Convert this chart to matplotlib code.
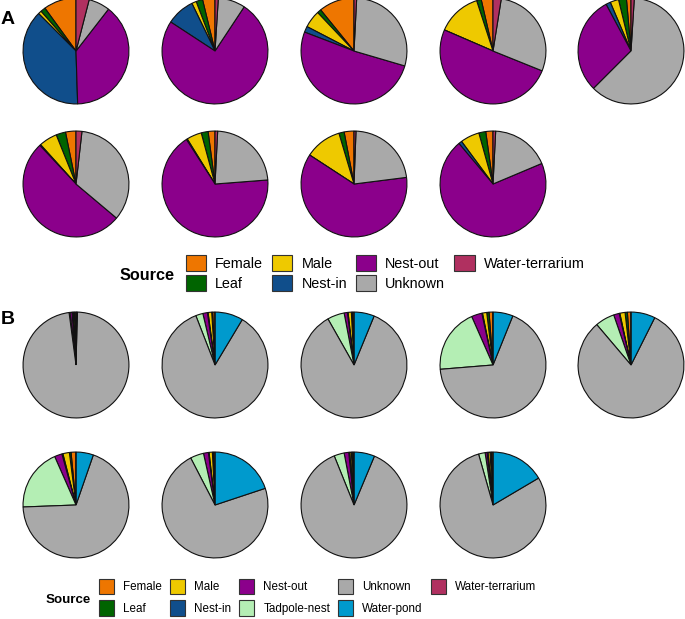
import matplotlib
matplotlib.use("Agg")
import matplotlib.pyplot as plt
from matplotlib.patches import Patch

plt.rcParams['font.family'] = ['Liberation Sans', 'DejaVu Sans']

W, H = 685, 619

# categories and colours
sources_a = ["Female", "Leaf", "Male", "Nest-in", "Nest-out", "Unknown", "Water-terrarium"]
sources_b = ["Female", "Leaf", "Male", "Nest-in", "Nest-out", "Tadpole-nest", "Unknown",
             "Water-pond", "Water-terrarium"]
colors = {"Female": "#EE7600", "Leaf": "#006400", "Male": "#EEC900", "Nest-in": "#104E8B",
          "Nest-out": "#8B008B", "Unknown": "#A9A9A9", "Water-terrarium": "#B03060",
          "Tadpole-nest": "#B4EEB4", "Water-pond": "#009ACD"}

# panel A: percentage per source (order of sources_a)
pies_a = [
    [10.0, 1.5, 1.0, 38.0, 39.0, 6.5, 4.0],
    [3.8, 2.0, 1.4, 8.6, 75.0, 8.3, 1.0],
    [10.8, 1.2, 5.3, 1.8, 51.0, 28.6, 0.8],
    [3.6, 1.4, 13.5, 0.0, 50.4, 28.6, 2.5],
    [1.4, 2.4, 2.6, 1.4, 29.7, 61.5, 1.0],
    [3.2, 2.9, 5.6, 0.3, 52.0, 34.4, 1.8],
    [2.1, 2.1, 4.6, 0.3, 67.2, 23.0, 0.8],
    [3.0, 1.6, 11.2, 0.0, 61.2, 22.4, 0.6],
    [2.2, 2.1, 5.8, 1.0, 70.0, 17.8, 0.8],
]

# panel B: percentage per source (order of sources_b)
pies_b = [
    [0.4, 0.3, 0.3, 0.2, 0.6, 0.3, 97.5, 0.2, 0.2],
    [0.7, 0.3, 1.1, 0.2, 1.4, 2.2, 85.5, 8.6, 0.0],
    [0.5, 0.3, 1.0, 0.2, 1.0, 5.2, 85.6, 6.2, 0.0],
    [1.2, 0.7, 1.3, 0.2, 3.2, 19.7, 67.6, 6.1, 0.0],
    [1.1, 0.7, 1.6, 0.2, 1.7, 5.9, 81.4, 7.4, 0.0],
    [1.5, 0.5, 2.0, 0.3, 2.3, 19.0, 69.1, 5.3, 0.0],
    [0.5, 0.3, 1.0, 0.2, 1.5, 4.1, 72.5, 19.9, 0.0],
    [0.4, 0.4, 0.5, 0.3, 1.4, 3.1, 87.6, 6.3, 0.0],
    [0.5, 0.4, 0.6, 0.3, 0.6, 2.0, 79.1, 16.5, 0.0],
]

col_x = [76, 215, 354, 493, 631]
R = 53

fig = plt.figure(figsize=(W / 100, H / 100), dpi=100)


def draw_pie(vals, names, cx, cy):
    ax = fig.add_axes([(cx - R - 1) / W, 1 - (cy + R + 1) / H, (2 * R + 2) / W, (2 * R + 2) / H])
    ax.pie(vals, colors=[colors[n] for n in names], startangle=90, counterclock=True,
           wedgeprops=dict(edgecolor="#111111", linewidth=0.8))
    ax.set_xlim(-1.02, 1.02)
    ax.set_ylim(-1.02, 1.02)
    ax.set_aspect("equal")
    ax.axis("off")


for i, vals in enumerate(pies_a):
    draw_pie(vals, sources_a, col_x[i % 5], [51, 184][i // 5])
for i, vals in enumerate(pies_b):
    draw_pie(vals, sources_b, col_x[i % 5], [365, 505][i // 5])

# panel letters
fig.text(1 / W, 1 - 20 / H, "A", fontsize=14, fontweight="bold", va="center")
fig.text(1 / W, 1 - 320 / H, "B", fontsize=14, fontweight="bold", va="center")

# legend A
fig.text(120 / W, 1 - 275 / H, "Source", fontsize=11.7, fontweight="bold", va="center")
hand_a = [Patch(facecolor=colors[n], edgecolor="#333333", linewidth=0.8, label=n) for n in sources_a]
fig.legend(handles=hand_a, ncol=4, loc="upper left", bbox_to_anchor=(186 / W, 1 - 255 / H),
           frameon=False, fontsize=10.4, handlelength=1.39, handleheight=1.32,
           handletextpad=0.63, columnspacing=0.63, labelspacing=0.27,
           borderpad=0, borderaxespad=0)

# legend B
fig.text(46 / W, 1 - 600 / H, "Source", fontsize=9.6, fontweight="bold", va="center")
hand_b = [Patch(facecolor=colors[n], edgecolor="#333333", linewidth=0.8, label=n) for n in sources_b]
fig.legend(handles=hand_b, ncol=5, loc="upper left", bbox_to_anchor=(99 / W, 1 - 579 / H),
           frameon=False, fontsize=8.4, handlelength=1.3, handleheight=1.65,
           handletextpad=0.77, columnspacing=0.68, labelspacing=0.5,
           borderpad=0, borderaxespad=0)

fig.savefig("out.png", dpi=100)
